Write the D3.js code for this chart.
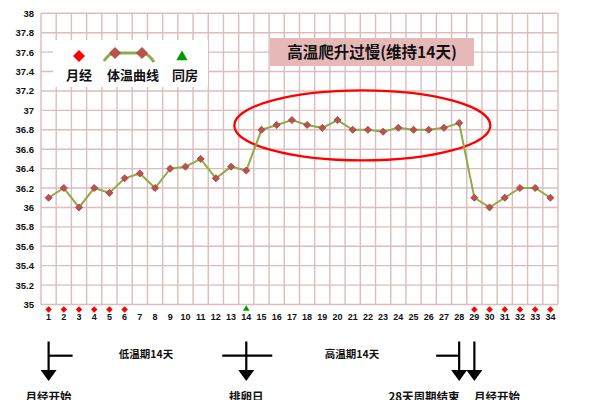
<!DOCTYPE html>
<html><head><meta charset="utf-8">
<script src="https://cdn.jsdelivr.net/npm/d3@7"></script>
<style>body{margin:0;background:#fff}svg{display:block}</style>
</head><body>
<svg id="c" width="600" height="400"></svg>
<script>
const days = d3.range(1, 35);
const temps = [36.1,36.2,36.0,36.2,36.15,36.3,36.35,36.2,36.4,36.42,36.5,36.3,36.42,36.38,
  36.8,36.85,36.9,36.85,36.82,36.9,36.8,36.8,36.78,36.82,36.8,36.8,36.82,36.87,
  36.1,36.0,36.1,36.2,36.2,36.1];
const periodDays = [1,2,3,4,5,6,29,30,31,32,33,34];
const intercourseDays = [14];
const yTicks = [35,35.2,35.4,35.6,35.8,36,36.2,36.4,36.6,36.8,37,37.2,37.4,37.6,37.8,38];
const legendLabels = ["月经","体温曲线","同房"];
const titleText = "高温爬升过慢(维持14天)";
const phaseLabels = ["低温期14天","高温期14天"];
const eventLabels = ["月经开始","排卵日","28天周期结束","月经开始"];

const svg = d3.select("#c");
const L = 41, R = 558, T = 13.3, B = 304.5;
const x = d3.scaleBand().domain(days).range([L, R]).padding(0);
const y = d3.scaleLinear().domain([35, 38]).range([B, T]);
const cx = d => x(d) + x.bandwidth() / 2;
const gridC = "#dcbcbc";
const numFont = "'Liberation Sans', Arial, sans-serif";
const cjkFont = "'Noto Sans CJK SC', sans-serif";
const sq = a => d3.symbol().type(d3.symbolSquare).size(a)();

// grid
const g = svg.append("g");
g.selectAll(".hg").data(yTicks).join("line")
  .attr("x1", L).attr("x2", R).attr("y1", d => y(d)).attr("y2", d => y(d))
  .attr("stroke", gridC).attr("stroke-width", 1.4);
const vb = days.map(d => x(d)).concat([R]);
g.selectAll(".vg").data(vb).join("line")
  .attr("x1", d => d).attr("x2", d => d).attr("y1", T).attr("y2", B)
  .attr("stroke", gridC).attr("stroke-width", 1.4);

// y axis labels
svg.append("g").selectAll("text").data(yTicks).join("text")
  .attr("x", 34).attr("y", d => y(d) + 3.5).attr("text-anchor", "end")
  .attr("font-family", numFont).attr("font-weight", "bold").attr("font-size", 9.5)
  .attr("fill", "#111").text(d => d3.format("~g")(d));

// x labels
svg.append("g").selectAll("text").data(days).join("text")
  .attr("x", d => cx(d)).attr("y", 320).attr("text-anchor", "middle")
  .attr("font-family", numFont).attr("font-weight", "bold").attr("font-size", 9)
  .attr("fill", "#111").text(d => d);

// legend background
svg.append("rect").attr("x", 53).attr("y", 40).attr("width", 155).attr("height", 47).attr("fill", "#fff");

// title box
svg.append("rect").attr("x", 270).attr("y", 38).attr("width", 204).attr("height", 28).attr("fill", "#e6b9b8");
svg.append("text").attr("x", 372).attr("y", 58).attr("text-anchor", "middle")
  .attr("font-family", cjkFont).attr("font-weight", "bold").attr("font-size", 15.5)
  .attr("fill", "#111").text(titleText);

// ellipse annotation around high phase
svg.append("ellipse")
  .attr("cx", (cx(15) + cx(28)) / 2 + 2).attr("cy", y(36.85) + 0.5)
  .attr("rx", 128).attr("ry", 35)
  .attr("fill", "none").attr("stroke", "#ff0000").attr("stroke-width", 2.2);

// temperature line
const lineGen = d3.line().x((d, i) => cx(days[i])).y(d => y(d));
svg.append("path").datum(temps).attr("d", lineGen)
  .attr("fill", "none").attr("stroke", "#8faa48").attr("stroke-width", 2);
svg.append("g").selectAll("path").data(temps).join("path")
  .attr("transform", (d, i) => `translate(${cx(days[i])},${y(d)}) rotate(45)`)
  .attr("d", sq(25))
  .attr("fill", "#c0504d").attr("stroke", "#a5403c").attr("stroke-width", 0.8);

// period markers
svg.append("g").selectAll("path").data(periodDays).join("path")
  .attr("transform", d => `translate(${cx(d)},309.5) rotate(45)`)
  .attr("d", sq(21))
  .attr("fill", "#ff0000");
// intercourse marker
svg.append("g").selectAll("path").data(intercourseDays).join("path")
  .attr("transform", d => `translate(${cx(d)},309)`)
  .attr("d", d3.symbol().type(d3.symbolTriangle).size(18)())
  .attr("fill", "#009900");

// legend
svg.append("path").attr("transform", "translate(79,56) rotate(45)")
  .attr("d", sq(72)).attr("fill", "#ff0000");
svg.append("path").attr("d", "M104,61 Q109,53 115,53 L142,53 Q148,53 154,62")
  .attr("fill", "none").attr("stroke", "#8faa48").attr("stroke-width", 3);
[115, 142].forEach(px => svg.append("path").attr("transform", `translate(${px},53) rotate(45)`)
  .attr("d", sq(60))
  .attr("fill", "#c0504d").attr("stroke", "#a5403c").attr("stroke-width", 0.8));
svg.append("path").attr("transform", "translate(182,57)")
  .attr("d", d3.symbol().type(d3.symbolTriangle).size(55)()).attr("fill", "#009900");
svg.append("g").selectAll("text").data(legendLabels).join("text")
  .attr("x", (d, i) => [79, 133, 185][i]).attr("y", 80).attr("text-anchor", "middle")
  .attr("font-family", cjkFont).attr("font-weight", "bold").attr("font-size", 13)
  .attr("fill", "#111").text(d => d);

// bottom annotations
const ann = svg.append("g").attr("stroke", "#000").attr("stroke-width", 2.2).attr("fill", "none");
function arrow(ax) {
  ann.append("line").attr("x1", ax).attr("x2", ax).attr("y1", 341.5).attr("y2", 372);
  svg.append("path").attr("d", `M${ax - 8},370 L${ax + 8},370 L${ax},381 Z`).attr("fill", "#000");
}
const a1 = cx(1), a2 = cx(14), a3 = cx(28), a4 = cx(29);
arrow(a1); arrow(a2); arrow(a3); arrow(a4);
ann.append("line").attr("x1", a1).attr("x2", a1 + 24).attr("y1", 355.7).attr("y2", 355.7);
ann.append("line").attr("x1", a2 - 24).attr("x2", a2 + 26).attr("y1", 355.7).attr("y2", 355.7);
ann.append("line").attr("x1", a3 - 23).attr("x2", a3).attr("y1", 355.7).attr("y2", 355.7);

svg.append("g").selectAll("text").data(phaseLabels).join("text")
  .attr("x", (d, i) => [146, 352][i]).attr("y", 358).attr("text-anchor", "middle")
  .attr("font-family", cjkFont).attr("font-weight", "bold").attr("font-size", 10.5)
  .attr("fill", "#111").text(d => d);
svg.append("g").selectAll("text").data(eventLabels).join("text")
  .attr("x", (d, i) => [a1, a2, 424, 497][i]).attr("y", 401).attr("text-anchor", "middle")
  .attr("font-family", cjkFont).attr("font-weight", "bold").attr("font-size", 11.5)
  .attr("fill", "#111").text(d => d);
</script>
</body></html>
